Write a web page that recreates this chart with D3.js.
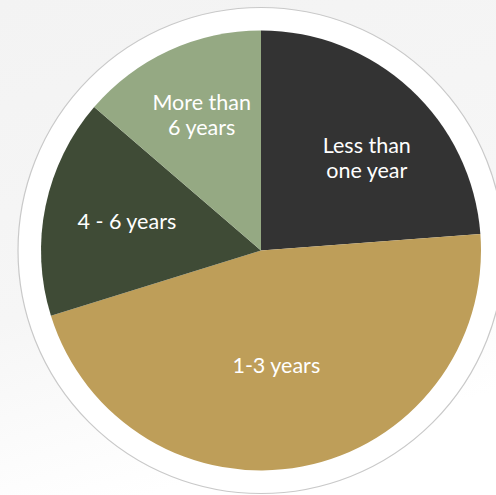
<!DOCTYPE html>
<html>
<head>
<meta charset="utf-8">
<script src="https://cdn.jsdelivr.net/npm/d3@7"></script>
<style>
  html, body { margin: 0; padding: 0; background: #ffffff; }
  svg { display: block; }
</style>
</head>
<body>
<div id="chart"></div>
<script>
// Tenure categories (clockwise from 12 o'clock) and their shares in percent
const categories = ["Less than one year", "1-3 years", "4 - 6 years", "More than 6 years"];
const shares = [23.8, 46.4, 16.1, 13.7];
// Multi-line slice labels
const labelLines = [["Less than", "one year"], ["1-3 years"], ["4 - 6 years"], ["More than", "6 years"]];
const sliceColors = ["#333333", "#be9e59", "#3f4b36", "#95a983"];

const width = 496, height = 495;
const cx = 261, cy = 250.5;
const pieRadius = 220;
const frameRadius = 243;
const labelRadius = 135;

// Per-label nudges (pixels) applied on top of the slice centroid
const labelNudge = {
  "Less than one year": [14, 6],
  "1-3 years": [-10, -18],
  "4 - 6 years": [-2, -2],
  "More than 6 years": [-3, -13]
};

const svg = d3.select("#chart").append("svg")
  .attr("width", width)
  .attr("height", height);

const defs = svg.append("defs");
const bg = defs.append("linearGradient")
  .attr("id", "bg").attr("x1", 0).attr("y1", 0).attr("x2", 0.3).attr("y2", 1);
bg.append("stop").attr("offset", "0%").attr("stop-color", "#f3f3f3");
bg.append("stop").attr("offset", "60%").attr("stop-color", "#f6f6f6");
bg.append("stop").attr("offset", "100%").attr("stop-color", "#ffffff");

svg.append("rect")
  .attr("width", width).attr("height", height)
  .attr("fill", "url(#bg)");

const g = svg.append("g").attr("transform", `translate(${cx},${cy})`);

// White frame around the pie
g.append("circle")
  .attr("r", frameRadius)
  .attr("fill", "#ffffff")
  .attr("stroke", "#c9c9c9")
  .attr("stroke-width", 1.2);

const data = categories.map((c, i) => ({ category: c, value: shares[i], lines: labelLines[i], color: sliceColors[i] }));

const pie = d3.pie().sort(null).value(d => d.value);
const arcs = pie(data);

const arc = d3.arc().innerRadius(0).outerRadius(pieRadius);
const labelArc = d3.arc().innerRadius(labelRadius).outerRadius(labelRadius);

g.selectAll("path.slice")
  .data(arcs)
  .join("path")
  .attr("class", "slice")
  .attr("d", arc)
  .attr("fill", d => d.data.color);

const lineHeight = 25;
const fontSize = 21.5;

const labels = g.selectAll("text.label")
  .data(arcs)
  .join("text")
  .attr("class", "label")
  .attr("text-anchor", "middle")
  .attr("fill", "#ffffff")
  .style("font-family", "Lato, 'Noto Sans', sans-serif")
  .style("font-size", fontSize + "px")
  .attr("transform", d => {
    const [x, y] = labelArc.centroid(d);
    const [nx, ny] = labelNudge[d.data.category] || [0, 0];
    return `translate(${x + nx},${y + ny})`;
  });

labels.each(function(d) {
  const t = d3.select(this);
  const n = d.data.lines.length;
  d.data.lines.forEach((line, i) => {
    t.append("tspan")
      .attr("x", 0)
      .attr("y", (i - (n - 1) / 2) * lineHeight + fontSize * 0.36)
      .text(line);
  });
});
</script>
</body>
</html>
